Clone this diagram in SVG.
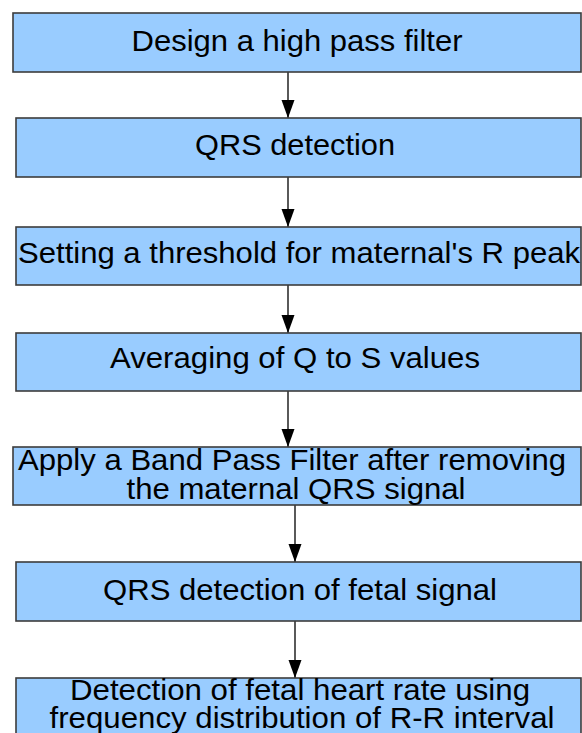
<svg xmlns="http://www.w3.org/2000/svg" width="582" height="733" viewBox="0 0 582 733">
  <style>
    .box { fill: #99ccff; stroke: #3c3c3c; stroke-width: 1.6; }
    .lbl { font-family: "Liberation Sans", Arial, sans-serif; font-size: 29px; fill: #000; text-anchor: middle; }
    .conn { stroke: #000; stroke-width: 1.3; fill: none; marker-end: url(#head); }
  </style>
  <defs>
    <!-- arrowhead drawn along +x so orient="auto" points it down the line -->
    <marker id="head" markerUnits="userSpaceOnUse" markerWidth="20" markerHeight="14" refX="19" refY="7" orient="auto" viewBox="0 0 20 14">
      <path d="M1,0.5 L19,7 L1,13.5 Z" fill="#000"/>
    </marker>
  </defs>
  <rect width="582" height="733" fill="#fff"/>

  <!-- flow connectors -->
  <g id="connectors">
    <line class="conn" x1="288" y1="72" x2="288" y2="118"/>
    <line class="conn" x1="288" y1="177" x2="288" y2="227"/>
    <line class="conn" x1="288" y1="285" x2="288" y2="333"/>
    <line class="conn" x1="288" y1="391" x2="288" y2="447"/>
    <line class="conn" x1="295" y1="505" x2="295" y2="562"/>
    <line class="conn" x1="295" y1="621" x2="295" y2="678"/>
  </g>

  <g id="step1">
    <rect class="box" x="13" y="13" width="568" height="59"/>
    <text class="lbl" x="297" y="51" textLength="331" lengthAdjust="spacingAndGlyphs">Design a high pass filter</text>
  </g>
  <g id="step2">
    <rect class="box" x="16" y="118" width="565" height="59"/>
    <text class="lbl" x="295" y="155" textLength="200" lengthAdjust="spacingAndGlyphs">QRS detection</text>
  </g>
  <g id="step3">
    <rect class="box" x="16" y="227" width="565" height="58"/>
    <text class="lbl" x="299" y="263" textLength="562" lengthAdjust="spacingAndGlyphs">Setting a threshold for maternal's R peak</text>
  </g>
  <g id="step4">
    <rect class="box" x="16" y="333" width="565" height="58"/>
    <text class="lbl" x="295" y="368" textLength="370" lengthAdjust="spacingAndGlyphs">Averaging of Q to S values</text>
  </g>
  <g id="step5">
    <rect class="box" x="13" y="447" width="568" height="58"/>
    <text class="lbl" x="292" y="470" textLength="548" lengthAdjust="spacingAndGlyphs">Apply a Band Pass Filter after removing</text>
    <text class="lbl" x="296" y="499" textLength="339" lengthAdjust="spacingAndGlyphs">the maternal QRS signal</text>
  </g>
  <g id="step6">
    <rect class="box" x="16" y="562" width="565" height="59"/>
    <text class="lbl" x="300" y="600" textLength="394" lengthAdjust="spacingAndGlyphs">QRS detection of fetal signal</text>
  </g>
  <g id="step7">
    <rect class="box" x="16" y="678" width="565" height="70"/>
    <text class="lbl" x="300" y="700" textLength="460" lengthAdjust="spacingAndGlyphs">Detection of fetal heart rate using</text>
    <text class="lbl" x="302" y="728" textLength="505" lengthAdjust="spacingAndGlyphs">frequency distribution of R-R interval</text>
  </g>
</svg>
